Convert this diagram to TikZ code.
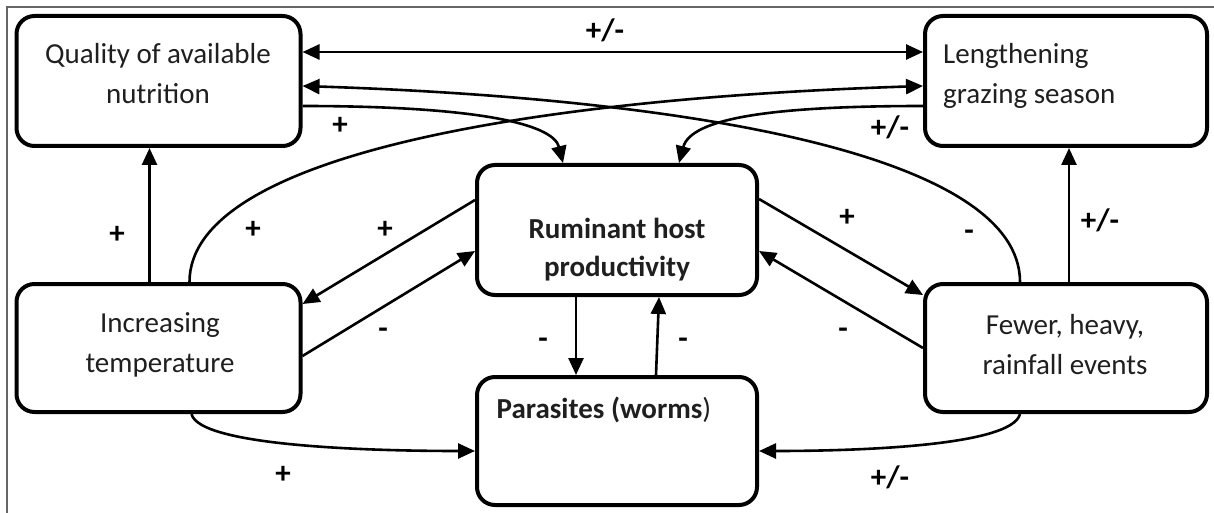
\documentclass[tikz,border=0pt]{standalone}
\usepackage{fontspec}
\setmainfont{Carlito}
\usetikzlibrary{arrows.meta,calc}
\begin{document}
\begin{tikzpicture}[x=1pt,y=-1pt,
  box/.style={draw, line width=4pt, rounded corners=18pt, inner sep=0pt},
  conn/.style={line width=2.6pt, -{Triangle[length=17pt,width=15pt]}},
  conntwo/.style={line width=2.6pt, {Triangle[length=17pt,width=15pt]}-{Triangle[length=17pt,width=15pt]}},
  boxtext/.style={font=\fontsize{29}{40}\selectfont, align=center, text=black!88, inner sep=0pt},
  sign/.style={font=\fontsize{31}{31}\selectfont\bfseries, inner sep=0pt}]
\useasboundingbox (0,0) rectangle (1214,513);
\fill[white] (0,0) rectangle (1214,513);
\draw[line width=1.5pt, black!60] (7,513) -- (7,7) -- (1214,7);

% boxes
\node[box, minimum width=284pt, minimum height=130pt] (Q) at (158.5,81) {};
\node[box, minimum width=282pt, minimum height=130pt] (L) at (1066,81) {};
\node[box, minimum width=280pt, minimum height=130pt] (R) at (617,230) {};
\node[box, minimum width=284pt, minimum height=128pt] (I) at (158.5,348) {};
\node[box, minimum width=282pt, minimum height=128pt] (F) at (1066,348) {};
\node[box, minimum width=280pt, minimum height=128pt] (P) at (617,441) {};

% texts
\node[boxtext] (Qt) at (158,74) {Quality of available\\nutrition};
\node[boxtext, align=left, anchor=west] (Lt) at (943,76) {Lengthening\\grazing season};
\node[boxtext, font=\fontsize{29}{38}\selectfont\bfseries] (Rt) at (617,250) {Ruminant host\\productivity};
\node[boxtext] (It) at (160,345) {Increasing\\temperature};
\node[boxtext] (Ft) at (1065,345) {Fewer, heavy,\\rainfall events};
\node[boxtext] (Pt) at (604,410) {\textbf{Parasites (worms})};

% connectors
\draw[conntwo] ([yshift=-38pt]Q.north east) -- ([yshift=-38pt]L.north west);
\draw[conn] ([xshift=97pt]F.north west) .. controls +(0,-125) and +(398,13) .. ([yshift=-72pt]Q.north east);
\draw[conn] ([xshift=175pt]I.north west) .. controls +(0,-125) and +(-401,13) .. ([yshift=-72pt]L.north west);
\draw[conn] ([yshift=-92pt]Q.north east) .. controls +(170,0) and +(-10,-40) .. ([xshift=88pt]R.north west);
\draw[conn] ([yshift=-92pt]L.north west) .. controls +(-150,0) and +(12,-45) .. ([xshift=-80pt]R.north east);
\draw[conn] ([xshift=135pt]I.north west) -- ([xshift=135pt]Q.south west);
\draw[conn] ([xshift=146pt]F.north west) -- ([xshift=146pt]L.south west);
\draw[conn] ([yshift=-37pt]R.north west) -- ([yshift=-22pt]I.north east);
\draw[conn] ([yshift=-74pt]I.north east) -- ([yshift=-88pt]R.north west);
\draw[conn] ([yshift=-36pt]R.north east) -- ([yshift=-13pt]F.north west);
\draw[conn] ([yshift=-66pt]F.north west) -- ([yshift=-88pt]R.north east);
\draw[conn] ([xshift=101pt]R.south west) -- ([xshift=101pt]P.north west);
\draw[conn] ([xshift=181pt]P.north west) -- ([xshift=184pt]R.south west);
\draw[conn] ([xshift=177pt]I.south west) .. controls +(8,33) and +(-97,0) .. ([yshift=-76pt]P.north west);
\draw[conn] ([xshift=97pt]F.south west) .. controls +(-8,33) and +(90,0) .. ([yshift=-76pt]P.north east);

% signs
\node[sign] (s1) at (605,30) {+/-};
\node[sign] (s2) at (969,235) {-};
\node[sign] (s3) at (253,230) {+};
\node[sign] (s4) at (340,126) {+};
\node[sign] (s5) at (890,127) {+/-};
\node[sign] (s6) at (117,235) {+};
\node[sign] (s7) at (1100,220) {+/-};
\node[sign] (s8) at (385,230) {+};
\node[sign] (s9) at (383,333) {-};
\node[sign] (s10) at (847,218) {+};
\node[sign] (s11) at (843,333) {-};
\node[sign] (s12) at (543,343) {-};
\node[sign] (s13) at (683,343) {-};
\node[sign] (s14) at (283,475) {+};
\node[sign] (s15) at (890,477) {+/-};
\end{tikzpicture}
\end{document}
